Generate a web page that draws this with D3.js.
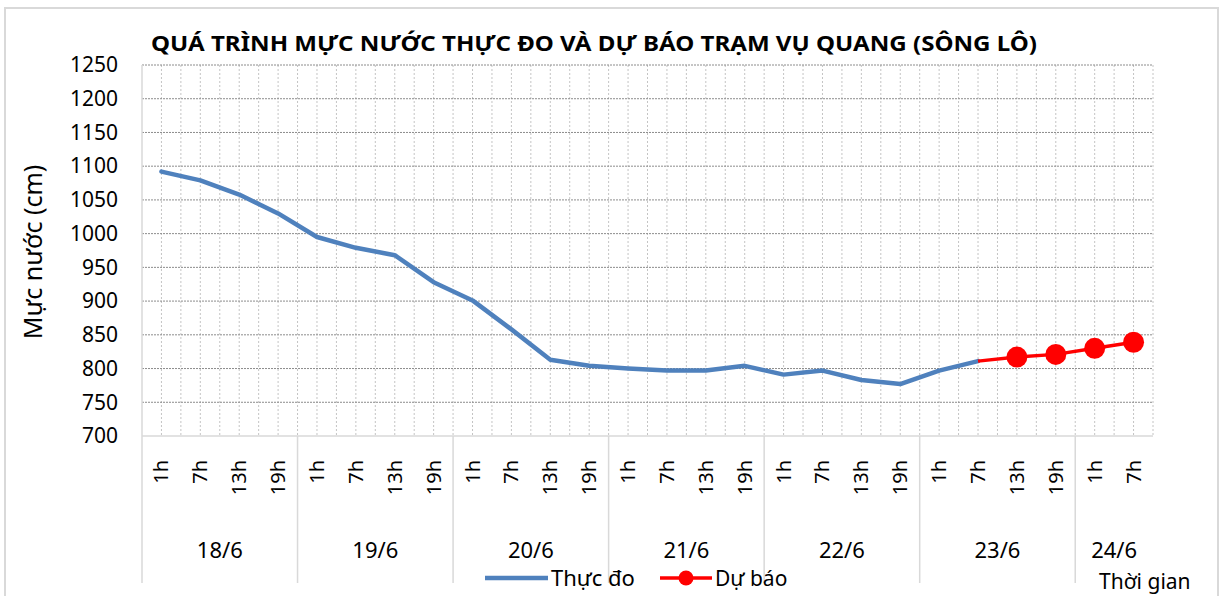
<!DOCTYPE html>
<html>
<head>
<meta charset="utf-8">
<script src="https://cdn.jsdelivr.net/npm/d3@7"></script>
<style>
  body { margin: 0; background: #fff; }
  svg text { font-family: "Noto Sans", "DejaVu Sans", sans-serif; fill: #000; }
</style>
</head>
<body>
<svg id="chart" width="1222" height="596"></svg>
<script>
// hour ticks and the day each group of ticks belongs to
const hours = ["1h","7h","13h","19h", "1h","7h","13h","19h", "1h","7h","13h","19h",
               "1h","7h","13h","19h", "1h","7h","13h","19h", "1h","7h","13h","19h",
               "1h","7h"];
const days = ["18/6", "19/6", "20/6", "21/6", "22/6", "23/6", "24/6"];
const dayCounts = [4, 4, 4, 4, 4, 4, 2];

// measured water level (cm), from 18/6 1h to 23/6 7h
const measured = [1092, 1079, 1058, 1030, 995, 979, 968, 928, 901, 858, 813, 804,
                  800, 797, 797, 804, 791, 797, 783, 777, 797, 811];
// forecast water level (cm), from 23/6 7h to 24/6 7h
const forecastStart = 21;
const forecast = [811, 817, 821, 830, 839];

const yTicks = [700, 750, 800, 850, 900, 950, 1000, 1050, 1100, 1150, 1200, 1250];

let chart = d3.select("#chart");

// outer frame
chart.append("rect")
    .attr("x", 5).attr("y", 8)
    .attr("width", 1213).attr("height", 610)
    .attr("fill", "#fff")
    .attr("stroke", "#d9d9d9")
    .attr("stroke-width", 2);

let plotLeft = 142, plotRight = 1153, plotTop = 65, plotBottom = 436;

let x = d3.scaleBand()
    .domain(d3.range(hours.length))
    .range([plotLeft, plotRight])
    .padding(0);

let y = d3.scaleLinear()
    .domain([700, 1250])
    .range([plotBottom, plotTop]);

let cx = function(i) { return x(i) + x.bandwidth() / 2; };

// vertical gridlines, every half category
let half = d3.range(hours.length * 2).map(function(k) { return plotLeft + (k + 1) * x.bandwidth() / 2; });
chart.selectAll("vgrid")
    .data(half).enter()
    .append("line")
    .attr("x1", function(d) { return d; })
    .attr("x2", function(d) { return d; })
    .attr("y1", plotTop).attr("y2", plotBottom)
    .attr("stroke", "#c4c4c4")
    .attr("stroke-width", 1)
    .attr("stroke-dasharray", "2,2");

// horizontal gridlines
chart.selectAll("hgrid")
    .data(yTicks.slice(1)).enter()
    .append("line")
    .attr("x1", plotLeft).attr("x2", plotRight)
    .attr("y1", function(d) { return y(d); })
    .attr("y2", function(d) { return y(d); })
    .attr("stroke", "#8c8c8c")
    .attr("stroke-width", 1)
    .attr("stroke-dasharray", "2,1");

// axes lines
chart.append("line")
    .attr("x1", plotLeft).attr("x2", plotLeft)
    .attr("y1", plotTop).attr("y2", plotBottom)
    .attr("stroke", "#d9d9d9").attr("stroke-width", 1.5);
chart.append("line")
    .attr("x1", plotLeft).attr("x2", plotRight)
    .attr("y1", plotBottom).attr("y2", plotBottom)
    .attr("stroke", "#d9d9d9").attr("stroke-width", 1.5);

// y axis labels
let yAxis = d3.axisLeft(y)
    .tickValues(yTicks)
    .tickFormat(d3.format("d"))
    .tickSize(0)
    .tickPadding(0);
let yAxisGroup = chart.append("g")
    .attr("transform", "translate(118,0)")
    .call(yAxis);
yAxisGroup.select(".domain").remove();
yAxisGroup.selectAll("text")
    .style("font-size", "21px")
    .style("font-family", "'Noto Sans', sans-serif")
    .attr("fill", "#000");

// hour labels (rotated)
chart.selectAll("hourlabel")
    .data(hours).enter()
    .append("text")
    .attr("transform", function(d, i) { return "translate(" + cx(i) + ",460) rotate(-90)"; })
    .attr("dy", "0.35em")
    .style("text-anchor", "end")
    .style("font-size", "20px")
    .text(function(d) { return d; });

// day groups
let bounds = [0];
dayCounts.forEach(function(c, i) { bounds.push(bounds[i] + c); });

chart.selectAll("daysep")
    .data(bounds.slice(0, bounds.length - 1)).enter()
    .append("line")
    .attr("x1", function(d) { return x(d); })
    .attr("x2", function(d) { return x(d); })
    .attr("y1", plotBottom).attr("y2", 583)
    .attr("stroke", "#d9d9d9")
    .attr("stroke-width", 1.5);

chart.selectAll("daylabel")
    .data(days).enter()
    .append("text")
    .attr("x", function(d, i) {
        let a = x(bounds[i]);
        let b = bounds[i + 1] < hours.length ? x(bounds[i + 1]) : plotRight;
        return (a + b) / 2;
    })
    .attr("y", 558)
    .style("text-anchor", "middle")
    .style("font-size", "22px")
    .text(function(d) { return d; });

// lines
let line = d3.line()
    .x(function(d) { return cx(d.i); })
    .y(function(d) { return y(d.v); });

let measuredPts = measured.map(function(v, i) { return {i: i, v: v}; });
let forecastPts = forecast.map(function(v, k) { return {i: forecastStart + k, v: v}; });

chart.append("path")
    .datum(measuredPts)
    .attr("d", line)
    .attr("fill", "none")
    .attr("stroke", "#4f81bd")
    .attr("stroke-width", 4.5)
    .attr("stroke-linejoin", "round")
    .attr("stroke-linecap", "round");

chart.append("path")
    .datum(forecastPts)
    .attr("d", line)
    .attr("fill", "none")
    .attr("stroke", "#ff0000")
    .attr("stroke-width", 3.5);

chart.selectAll("fdot")
    .data(forecastPts.slice(1)).enter()
    .append("circle")
    .attr("cx", function(d) { return cx(d.i); })
    .attr("cy", function(d) { return y(d.v); })
    .attr("r", 10.5)
    .attr("fill", "#ff0000");

// title
chart.append("text")
    .attr("x", 151)
    .attr("y", 51)
    .attr("textLength", 886)
    .attr("lengthAdjust", "spacingAndGlyphs")
    .style("font-size", "21px")
    .style("font-weight", "bold")
    .text("QUÁ TRÌNH MỰC NƯỚC THỰC ĐO VÀ DỰ BÁO TRẠM VỤ QUANG (SÔNG LÔ)");

// y axis title
chart.append("text")
    .attr("transform", "translate(42,252) rotate(-90)")
    .style("text-anchor", "middle")
    .style("font-size", "25px")
    .text("Mực nước (cm)");

// legend
chart.append("line")
    .attr("x1", 485).attr("x2", 548)
    .attr("y1", 578).attr("y2", 578)
    .attr("stroke", "#4f81bd").attr("stroke-width", 4.5);
chart.append("text")
    .attr("x", 551).attr("y", 586)
    .style("font-size", "22px")
    .text("Thực đo");

chart.append("line")
    .attr("x1", 660).attr("x2", 712)
    .attr("y1", 578).attr("y2", 578)
    .attr("stroke", "#ff0000").attr("stroke-width", 3.5);
chart.append("circle")
    .attr("cx", 686).attr("cy", 578)
    .attr("r", 7.5)
    .attr("fill", "#ff0000");
chart.append("text")
    .attr("x", 715).attr("y", 586)
    .style("font-size", "21px")
    .text("Dự báo");

// x axis title
chart.append("text")
    .attr("x", 1099).attr("y", 589)
    .style("font-size", "21px")
    .text("Thời gian");
</script>
</body>
</html>
